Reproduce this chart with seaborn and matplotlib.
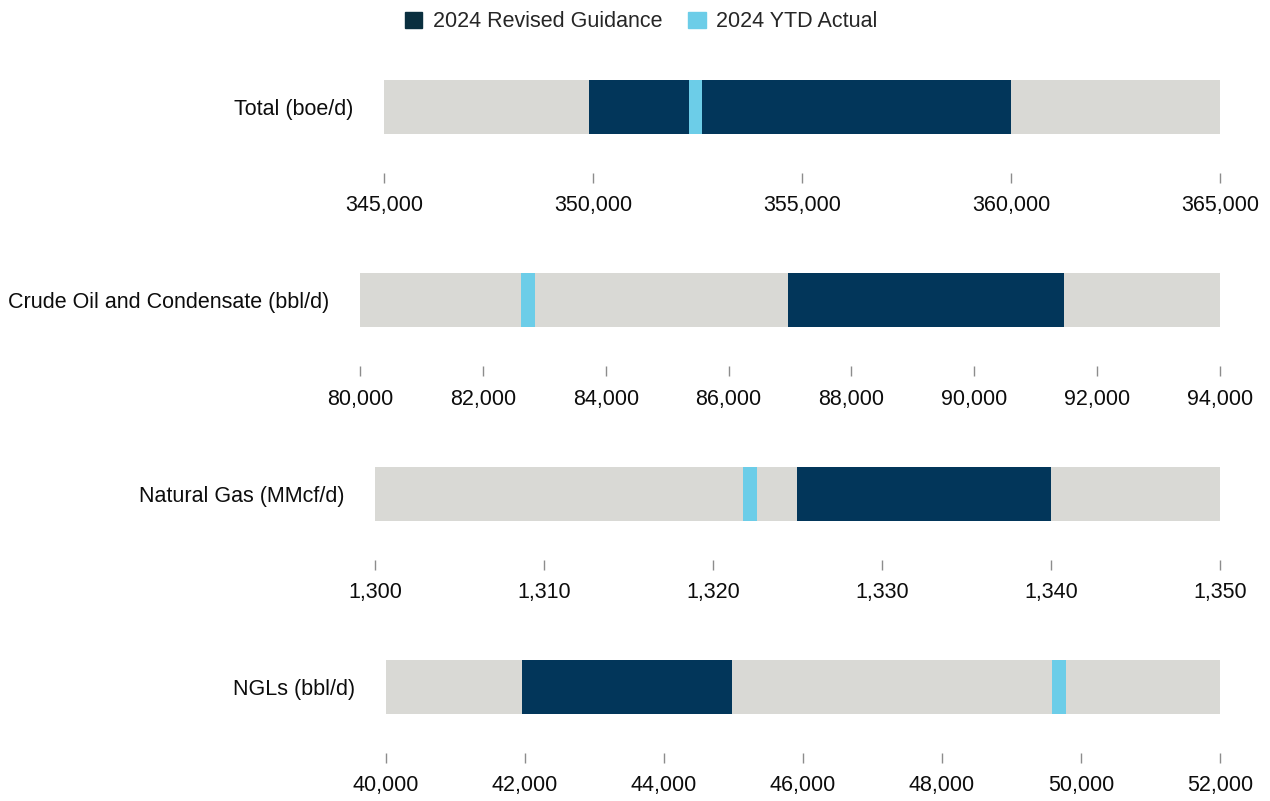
import pandas as pd
import matplotlib.pyplot as plt
import numpy as np
import seaborn as sns
from matplotlib.patches import Patch
from matplotlib.ticker import FuncFormatter

# chart values
categories = ["Total (boe/d)", "Crude Oil and Condensate (bbl/d)", "Natural Gas (MMcf/d)", "NGLs (bbl/d)"]
axis_min = [345000, 80000, 1300, 40000]
axis_max = [365000, 94000, 1350, 52000]
tick_step = [5000, 2000, 10, 2000]
guidance_low = [349900, 86970, 1325, 41960]
guidance_high = [360000, 91460, 1340, 44980]
ytd_actual = [352450, 82730, 1322.2, 49680]

grey = '#d9d9d5'
dark = '#02365a'
light = '#6ccde8'

sns.set_theme(style='white')
plt.rcParams['font.family'] = ['Liberation Sans', 'DejaVu Sans']

fig = plt.figure(figsize=(12.7, 8.01), dpi=100)
W, H = 1270, 801
left_px = [384, 360, 375, 386]   # bar start per row (follows label width)
right_px = 1220

for i, cat in enumerate(categories):
    top = 80 + 193.3 * i
    bottom = 173 + 193.3 * i
    ax = fig.add_axes([left_px[i] / W, 1 - bottom / H, (right_px - left_px[i]) / W, (bottom - top) / H])

    df = pd.DataFrame({'cat': [cat], 'val': [axis_max[i]]})
    sns.barplot(data=df, x='val', y='cat', color=grey, saturation=1, width=0.8, linewidth=0, ax=ax)
    ax.barh(0, guidance_high[i] - guidance_low[i], left=guidance_low[i], height=0.8, color=dark, linewidth=0)
    w = 0.0165 * (axis_max[i] - axis_min[i])
    ax.barh(0, w, left=ytd_actual[i] - w / 2, height=0.8, color=light, linewidth=0)

    ax.set_xlim(axis_min[i], axis_max[i])
    ax.set_ylim(0.978, -0.4)
    ax.set_xticks(np.arange(axis_min[i], axis_max[i] + tick_step[i] / 2, tick_step[i]))
    ax.xaxis.set_major_formatter(FuncFormatter(lambda v, p: f'{v:,.0f}'))
    ax.set_xlabel('')
    ax.set_ylabel('')
    for s in ax.spines.values():
        s.set_visible(False)
    ax.tick_params(axis='x', bottom=True, length=7, width=1, color='#8c8c8c', pad=9, labelsize=15.5, labelcolor='#0d0d0d')
    ax.tick_params(axis='y', left=False, length=0, pad=22, labelsize=15.5, labelcolor='#0d0d0d')

handles = [Patch(color='#0a2f3f', label='2024 Revised Guidance'), Patch(color=light, label='2024 YTD Actual')]
fig.legend(handles=handles, loc='upper center', bbox_to_anchor=(0.505, 1.01), ncol=2, frameon=False,
           fontsize=15.5, handlelength=0.8, handleheight=0.8, handletextpad=0.5, columnspacing=1.2)

plt.savefig('out.png', dpi=100)
